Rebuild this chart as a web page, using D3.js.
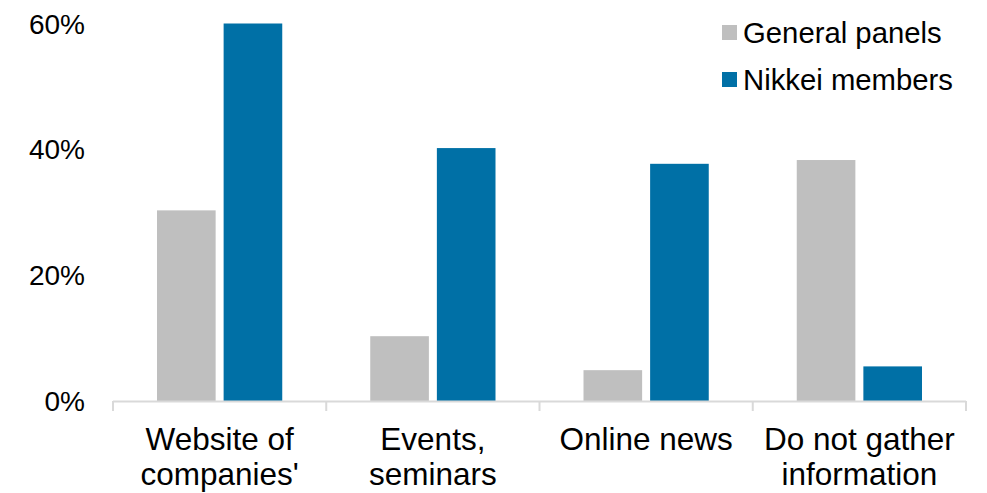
<!DOCTYPE html>
<html><head><meta charset="utf-8">
<script src="https://cdn.jsdelivr.net/npm/d3@7"></script>
<style>body{margin:0;background:#fff}svg{display:block}text{font-family:Arial,"Liberation Sans",sans-serif;fill:#000}</style>
</head><body><svg id="c" width="987" height="493"></svg>
<script>
const categories = [["Website of","companies'"],["Events,","seminars"],["Online news"],["Do not gather","information"]];
const categoryKeys = ["Website of companies'","Events, seminars","Online news","Do not gather information"];
const seriesNames = ["General panels","Nikkei members"];
const generalPanels = [30.3, 10.3, 4.9, 38.3];
const nikkeiMembers = [60.0, 40.2, 37.7, 5.5];
const yTicks = [0,20,40,60];
const colors = ["#bfbfbf","#0070a6"];

const svg = d3.select("#c");
const x = d3.scaleBand().domain(categoryKeys).range([113,966]).padding(0);
const x1 = d3.scaleBand().domain(seriesNames).range([44, x.bandwidth()-44]).paddingInner(0.12);
const y = d3.scaleLinear().domain([0,60]).range([401,23.5]);
const seriesVals = [generalPanels, nikkeiMembers];

categoryKeys.forEach((c,i)=>{
  seriesNames.forEach((s,j)=>{
    svg.append("rect").attr("x",x(c)+x1(s)).attr("y",y(seriesVals[j][i]))
      .attr("width",x1.bandwidth()).attr("height",y(0)-y(seriesVals[j][i]))
      .attr("fill",colors[j]);
  });
});

svg.append("line").attr("x1",x.range()[0]).attr("x2",x.range()[1]).attr("y1",y(0)+0.5).attr("y2",y(0)+0.5)
  .attr("stroke","#d9d9d9").attr("stroke-width",2);
const bounds = categoryKeys.map(c=>x(c)).concat([x.range()[1]]);
bounds.forEach(b=>{
  svg.append("line").attr("x1",b).attr("x2",b).attr("y1",y(0)).attr("y2",y(0)+10)
    .attr("stroke","#d9d9d9").attr("stroke-width",2);
});

yTicks.forEach(t=>{
  svg.append("text").attr("x",85).attr("y",y(t)).attr("dy","0.36em").attr("text-anchor","end")
    .attr("font-size",28).text(t+"%");
});

categoryKeys.forEach((c,i)=>{
  const lines = categories[i];
  const tx = svg.append("text").attr("text-anchor","middle").attr("font-size",31.5);
  lines.forEach((l,k)=>{
    tx.append("tspan").attr("x",x(c)+x.bandwidth()/2).attr("y",450+k*35).text(l);
  });
});

seriesNames.forEach((s,j)=>{
  const cy = 32.5 + j*47;
  svg.append("rect").attr("x",722).attr("y",cy-7.5).attr("width",15).attr("height",15).attr("fill",colors[j]);
  svg.append("text").attr("x",743).attr("y",cy).attr("dy","0.36em").attr("font-size",29.3).text(s);
});
</script></body></html>
